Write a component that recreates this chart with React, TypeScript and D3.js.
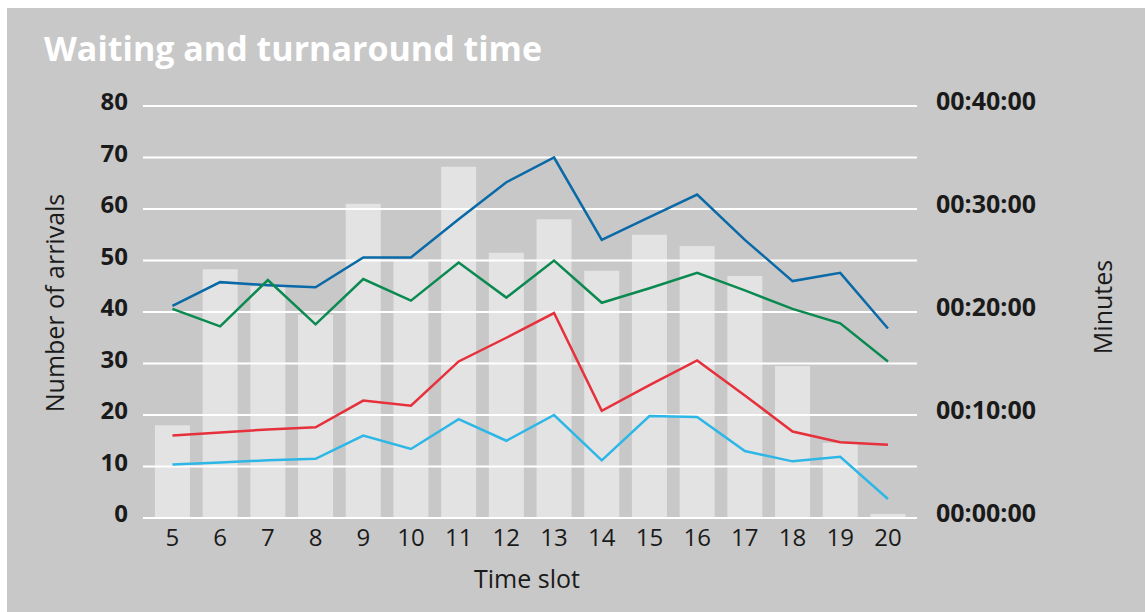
import React from "react";
import * as d3 from "d3";

// time slots and number of arrivals (bars, left axis)
const slots = [5, 6, 7, 8, 9, 10, 11, 12, 13, 14, 15, 16, 17, 18, 19, 20];
const arrivals = [18, 48.3, 45, 39.5, 61, 50, 68.2, 51.5, 58, 48, 55, 52.8, 47, 29.5, 14.6, 0.8];

// times in minutes (lines, right axis)
const turnaroundMax = [20.6, 22.9, 22.6, 22.4, 25.3, 25.3, 29, 32.6, 35, 27, 29.2, 31.4, 27, 23, 23.8, 18.4];
const turnaroundAvg = [20.3, 18.6, 23.1, 18.8, 23.2, 21.1, 24.8, 21.4, 25, 20.9, 22.3, 23.8, 22.1, 20.3, 18.9, 15.2];
const waitingMax = [8.0, 8.3, 8.6, 8.8, 11.4, 10.9, 15.2, 17.5, 19.9, 10.4, 12.9, 15.3, 11.9, 8.4, 7.35, 7.1];
const waitingAvg = [5.2, 5.4, 5.6, 5.75, 8.0, 6.7, 9.6, 7.5, 10.0, 5.6, 9.9, 9.8, 6.5, 5.5, 5.95, 1.85];

const leftTicks = [0, 10, 20, 30, 40, 50, 60, 70, 80];
const rightTicks = [0, 10, 20, 30, 40];

const series = [
  { name: "turnaroundMax", values: turnaroundMax, color: "#0a69a7" },
  { name: "turnaroundAvg", values: turnaroundAvg, color: "#0a8a50" },
  { name: "waitingMax", values: waitingMax, color: "#e6303c" },
  { name: "waitingAvg", values: waitingAvg, color: "#2cb7e6" },
];

const W = 1138;
const H = 604;
const font = "'Open Sans', 'Noto Sans', sans-serif";
const ink = "#1a1a1a";

export default function App() {
  // svg sits at (7, 8) on the page, so page coords minus offset
  const ox = 7;
  const oy = 8;

  const x = d3
    .scaleBand<number>()
    .domain(slots)
    .range([148.6 - ox, 911.8 - ox])
    .paddingInner(0.266)
    .paddingOuter(0.133);

  const yLeft = d3.scaleLinear().domain([0, 80]).range([518 - oy, 106 - oy]);
  const yRight = d3.scaleLinear().domain([0, 40]).range([518 - oy, 106 - oy]);

  const cx = (s: number) => (x(s) ?? 0) + x.bandwidth() / 2;

  const line = (vals: number[]) =>
    d3
      .line<number>()
      .x((_, i) => cx(slots[i]))
      .y((d) => yRight(d))(vals) ?? "";

  const gridX0 = 143 - ox;
  const gridX1 = 917 - ox;
  const fmt = (m: number) => `00:${String(m).padStart(2, "0")}:00`;

  return (
    <svg
      width={W}
      height={H}
      style={{ position: "absolute", left: ox, top: oy, fontFamily: font }}
    >
      <rect x={0} y={0} width={W} height={H} fill="#c8c8c8" />

      <text x={44 - ox} y={61 - oy} fill="#ffffff" fontSize={34} fontWeight={700}>
        Waiting and turnaround time
      </text>

      {/* bars */}
      {slots.map((s, i) => (
        <rect
          key={s}
          x={x(s)}
          y={yLeft(arrivals[i])}
          width={x.bandwidth()}
          height={yLeft(0) - yLeft(arrivals[i])}
          fill="#e3e3e3"
        />
      ))}

      {/* gridlines */}
      {leftTicks.map((t) => (
        <line
          key={t}
          x1={gridX0}
          x2={gridX1}
          y1={yLeft(t)}
          y2={yLeft(t)}
          stroke="#ffffff"
          strokeWidth={2.2}
        />
      ))}

      {/* lines */}
      {series.map((s) => (
        <path
          key={s.name}
          d={line(s.values)}
          fill="none"
          stroke={s.color}
          strokeWidth={2.5}
          strokeLinejoin="miter"
        />
      ))}

      {/* left axis labels */}
      {leftTicks.map((t) => (
        <text
          key={t}
          x={128 - ox}
          y={yLeft(t) + 4}
          textAnchor="end"
          fontSize={24}
          fontWeight={700}
          fill={ink}
        >
          {t}
        </text>
      ))}

      {/* right axis labels */}
      {rightTicks.map((t) => (
        <text
          key={t}
          x={936 - ox}
          y={yRight(t) + 4}
          fontSize={25}
          fontWeight={700}
          fill={ink}
        >
          {fmt(t)}
        </text>
      ))}

      {/* x axis labels */}
      {slots.map((s) => (
        <text
          key={s}
          x={cx(s)}
          y={546 - oy}
          textAnchor="middle"
          fontSize={24}
          fill={ink}
        >
          {s}
        </text>
      ))}

      <text x={527 - ox} y={588 - oy} textAnchor="middle" fontSize={25} fill={ink}>
        Time slot
      </text>

      <text
        transform={`translate(${64 - ox}, ${303 - oy}) rotate(-90)`}
        textAnchor="middle"
        fontSize={25}
        fill={ink}
      >
        Number of arrivals
      </text>

      <text
        transform={`translate(${1112 - ox}, ${307 - oy}) rotate(-90)`}
        textAnchor="middle"
        fontSize={25}
        fill={ink}
      >
        Minutes
      </text>
    </svg>
  );
}
